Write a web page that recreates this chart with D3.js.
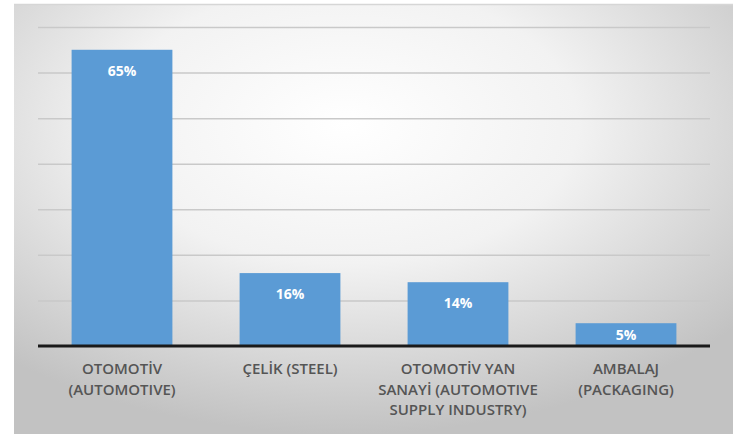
<!DOCTYPE html>
<html>
<head>
<meta charset="utf-8">
<script src="https://cdn.jsdelivr.net/npm/d3@7"></script>
<style>
  body { margin: 0; background: #fff; }
  svg { display: block; }
</style>
</head>
<body>
<div id="chart"></div>
<script>
// categories, each split into the lines shown under the axis
const categories = [
  ["OTOMOTİV", "(AUTOMOTIVE)"],
  ["ÇELİK (STEEL)"],
  ["OTOMOTİV YAN", "SANAYİ (AUTOMOTIVE", "SUPPLY INDUSTRY)"],
  ["AMBALAJ", "(PACKAGING)"]
];
const shares = [65, 16, 14, 5];
const yTicks = [0, 10, 20, 30, 40, 50, 60, 70];

const W = 747, H = 434;
const panel = {x: 14, y: 4, w: 719, h: 430};
const margin = {top: 27, right: 37, bottom: 88, left: 38};

const svg = d3.select("#chart").append("svg")
  .attr("width", W).attr("height", H);

// grey radial background
const grad = svg.append("defs").append("radialGradient")
  .attr("id", "bg").attr("cx", "46%").attr("cy", "28%").attr("r", "72%");
grad.append("stop").attr("offset", "0%").attr("stop-color", "#ffffff");
grad.append("stop").attr("offset", "45%").attr("stop-color", "#f2f2f2");
grad.append("stop").attr("offset", "100%").attr("stop-color", "#c2c2c2");

svg.append("rect")
  .attr("x", panel.x).attr("y", panel.y)
  .attr("width", panel.w).attr("height", panel.h)
  .attr("fill", "url(#bg)");
svg.append("line")
  .attr("x1", panel.x).attr("x2", panel.x + panel.w)
  .attr("y1", panel.y + 0.5).attr("y2", panel.y + 0.5)
  .attr("stroke", "#d6d6d6").attr("stroke-width", 1.5);

const width = W - margin.left - margin.right,
      height = 346 - margin.top;

const g = svg.append("g")
  .attr("transform", `translate(${margin.left}, ${margin.top})`);

const x = d3.scaleBand()
  .domain(categories.map((c, i) => i))
  .range([0, width])
  .paddingInner(0.4)
  .paddingOuter(0.2);

const y = d3.scaleLinear()
  .domain([0, 70])
  .range([height, 0]);

// gridlines
g.append("g")
  .call(d3.axisLeft(y).tickValues(yTicks.slice(1)).tickSize(-width).tickFormat(""))
  .call(a => a.select(".domain").remove())
  .selectAll("line")
    .attr("stroke", "#c9c9c9")
    .attr("stroke-width", 1.5);

// bars
g.selectAll(".bar")
  .data(shares)
  .enter()
  .append("rect")
    .attr("x", (d, i) => x(i))
    .attr("y", d => y(d))
    .attr("width", x.bandwidth())
    .attr("height", d => height - y(d))
    .attr("fill", "#5b9bd5");

// value labels inside bars
g.selectAll(".val")
  .data(shares)
  .enter()
  .append("text")
    .attr("x", (d, i) => x(i) + x.bandwidth() / 2)
    .attr("y", d => Math.min(y(d) + 21, (y(d) + y(0)) / 2) + 5)
    .attr("text-anchor", "middle")
    .attr("fill", "#ffffff")
    .attr("font-family", "'Open Sans', sans-serif")
    .attr("font-weight", "bold")
    .attr("font-size", "14px")
    .text(d => d + "%");

// baseline
g.append("line")
  .attr("x1", 0).attr("x2", width)
  .attr("y1", y(0)).attr("y2", y(0))
  .attr("stroke", "#1a1a1a").attr("stroke-width", 3);

// category labels
const lab = g.selectAll(".cat")
  .data(categories)
  .enter()
  .append("text")
    .attr("text-anchor", "middle")
    .attr("fill", "#555555")
    .attr("font-family", "'Open Sans', sans-serif")
    .attr("font-weight", 600)
    .attr("font-size", "15px")
    .attr("transform", (d, i) => `translate(${x(i) + x.bandwidth() / 2}, ${height + 28})`);

lab.selectAll("tspan")
  .data(d => d)
  .enter()
  .append("tspan")
    .attr("x", 0)
    .attr("dy", (d, i) => i === 0 ? 0 : 20.5)
    .text(d => d);
</script>
</body>
</html>
